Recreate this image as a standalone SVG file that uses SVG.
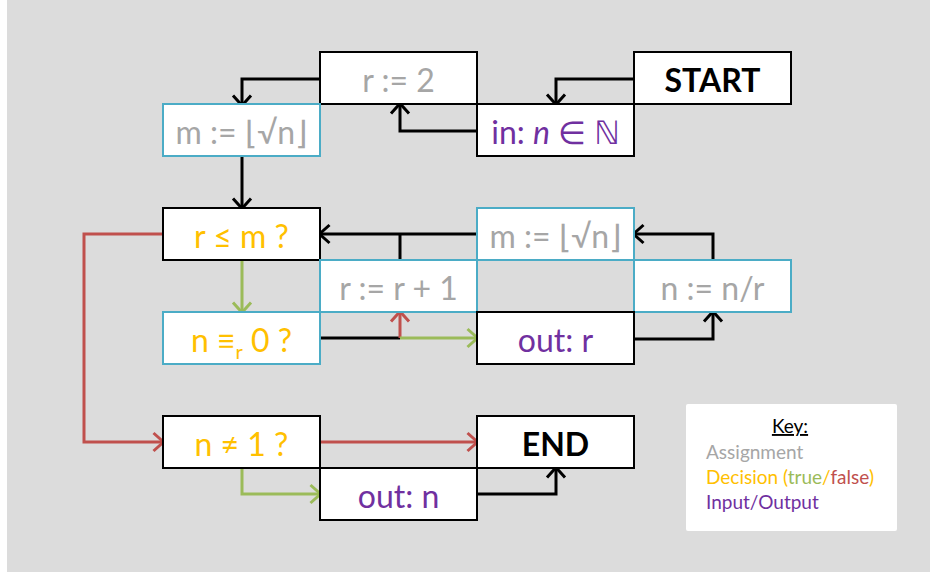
<svg xmlns="http://www.w3.org/2000/svg" width="930" height="572" viewBox="0 0 930 572">
<style>
.box{fill:#fff;stroke-width:2}
.blk{stroke:#000}
.blu{stroke:#4bacc6}
.t{font-family:Lato,"Open Sans","DejaVu Sans",sans-serif;font-size:32px;text-anchor:middle}
.asg{fill:#a6a6a6}
.dec{fill:#ffc000}
.io{fill:#7030a0}
.bold{font-weight:bold;fill:#000}
.c{fill:none;stroke-width:3}
.k{stroke:#000}
.r{stroke:#c0504d}
.g{stroke:#9bbb59}
.key{font-family:Lato,"Open Sans",sans-serif;font-size:19px}
</style>
<defs>
<marker id="ak" markerUnits="userSpaceOnUse" markerWidth="24" markerHeight="24" viewBox="-12 -12 24 24" refX="-1.5" refY="0" orient="auto"><path d="M-10,-9 L0,0 L-10,9" fill="none" stroke="#000" stroke-width="3"/></marker>
<marker id="ar" markerUnits="userSpaceOnUse" markerWidth="24" markerHeight="24" viewBox="-12 -12 24 24" refX="-1.5" refY="0" orient="auto"><path d="M-10,-9 L0,0 L-10,9" fill="none" stroke="#c0504d" stroke-width="3"/></marker>
<marker id="ag" markerUnits="userSpaceOnUse" markerWidth="24" markerHeight="24" viewBox="-12 -12 24 24" refX="-1.5" refY="0" orient="auto"><path d="M-10,-9 L0,0 L-10,9" fill="none" stroke="#9bbb59" stroke-width="3"/></marker>
</defs>
<rect x="0" y="0" width="930" height="572" fill="#fff"/>
<rect x="7" y="0" width="923" height="572" fill="#dcdcdc"/>

<g id="connectors">
<path class="c k" d="M633,79 H556 V103" marker-end="url(#ak)"/>
<path class="c k" d="M477,131 H400 V105" marker-end="url(#ak)"/>
<path class="c k" d="M320,79 H242 V104" marker-end="url(#ak)"/>
<path class="c k" d="M242,157 V207" marker-end="url(#ak)"/>
<path class="c g" d="M242,261 V311" marker-end="url(#ag)"/>
<path class="c r" d="M163,234 H84 V442 H162" marker-end="url(#ar)"/>
<path class="c k" d="M321,338 H400"/>
<path class="c r" d="M400,338 V313" marker-end="url(#ar)"/>
<path class="c g" d="M400,338 H476" marker-end="url(#ag)"/>
<path class="c k" d="M400,260 V234"/>
<path class="c k" d="M477,234 H321" marker-end="url(#ak)"/>
<path class="c k" d="M634,339 H713 V313" marker-end="url(#ak)"/>
<path class="c k" d="M713,260 V234 H635" marker-end="url(#ak)"/>
<path class="c r" d="M321,442 H476" marker-end="url(#ar)"/>
<path class="c g" d="M242,468 V494 H319" marker-end="url(#ag)"/>
<path class="c k" d="M478,494 H556 V469" marker-end="url(#ak)"/>
</g>

<g id="n_r2"><rect class="box blk" x="320" y="52" width="157" height="52"/><text class="t asg" x="398.5" y="92">r := 2</text></g>
<g id="n_start"><rect class="box blk" x="634" y="52" width="157" height="52"/><text class="t bold" x="712.5" y="92">START</text></g>
<g id="n_m1"><rect class="box blu" x="163" y="104" width="157" height="52"/><text class="t asg" x="241.5" y="144">m := ⌊√n⌋</text></g>
<g id="n_in"><rect class="box blk" x="477" y="104" width="157" height="52"/><text class="t io" x="555.5" y="144">in: <tspan font-style="italic">n</tspan> ∈ ℕ</text></g>
<g id="n_rlem"><rect class="box blk" x="163" y="208" width="157" height="52"/><text class="t dec" x="241.5" y="248">r ≤ m ?</text></g>
<g id="n_m2"><rect class="box blu" x="477" y="208" width="157" height="52"/><text class="t asg" x="555.5" y="248">m := ⌊√n⌋</text></g>
<g id="n_rinc"><rect class="box blu" x="320" y="260" width="157" height="52"/><text class="t asg" x="398.5" y="300">r := r + 1</text></g>
<g id="n_ndiv"><rect class="box blu" x="634" y="260" width="157" height="52"/><text class="t asg" x="712.5" y="300">n := n/r</text></g>
<g id="n_mod"><rect class="box blu" x="163" y="312" width="157" height="52"/><text class="t dec" x="241.5" y="352">n ≡<tspan font-size="20" dy="7">r</tspan><tspan dy="-7"> 0 ?</tspan></text></g>
<g id="n_outr"><rect class="box blk" x="477" y="312" width="157" height="52"/><text class="t io" x="555.5" y="352">out: r</text></g>
<g id="n_ne1"><rect class="box blk" x="163" y="416" width="157" height="52"/><text class="t dec" x="241.5" y="456">n ≠ 1 ?</text></g>
<g id="n_end"><rect class="box blk" x="477" y="416" width="157" height="52"/><text class="t bold" x="555.5" y="456">END</text></g>
<g id="n_outn"><rect class="box blk" x="320" y="468" width="157" height="52"/><text class="t io" x="398.5" y="508">out: n</text></g>

<g id="key">
<rect x="686" y="404" width="211" height="127" rx="2" fill="#fff"/>
<text class="key" x="790" y="433" text-anchor="middle" fill="#000" text-decoration="underline">Key:</text>
<text class="key" x="706" y="459" fill="#a6a6a6">Assignment</text>
<text class="key" x="706" y="484" fill="#ffc000">Decision (<tspan fill="#9bbb59">true</tspan>/<tspan fill="#c0504d">false</tspan>)</text>
<text class="key" x="706" y="509" fill="#7030a0">Input/Output</text>
</g>
</svg>
